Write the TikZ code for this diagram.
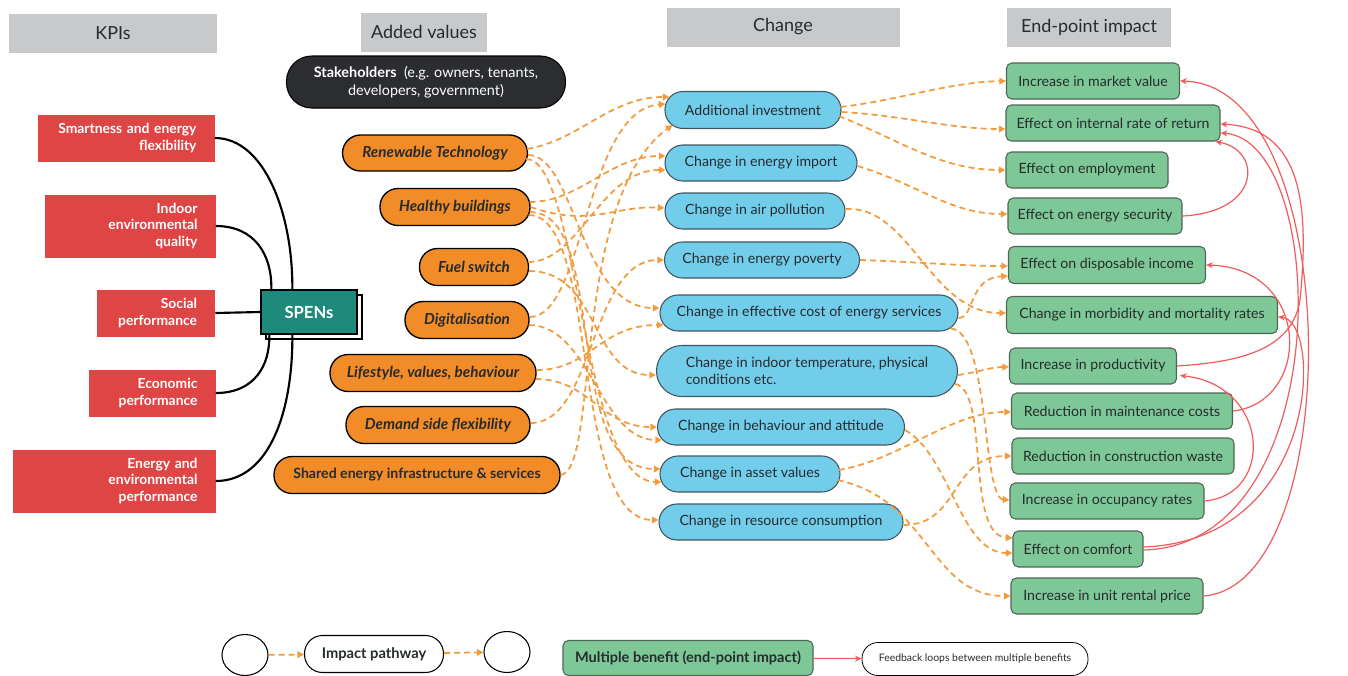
\documentclass[tikz,border=0pt]{standalone}
\usepackage{fontspec}
\setmainfont{Lato}
\usetikzlibrary{arrows.meta,shapes.geometric,calc}
\definecolor{hdr}{HTML}{C8C9CB}
\definecolor{kred}{HTML}{E04545}
\definecolor{teal}{HTML}{1D8A7C}
\definecolor{aorange}{HTML}{F28C28}
\definecolor{lorange}{HTML}{F39A3D}
\definecolor{cblue}{HTML}{72CDEB}
\definecolor{cbord}{HTML}{3E5660}
\definecolor{egreen}{HTML}{7DC896}
\definecolor{gbord}{HTML}{4D6655}
\definecolor{fred}{HTML}{F05B5B}
\definecolor{dark}{HTML}{2B2D30}
\definecolor{txt}{HTML}{262B2E}
\begin{document}
\begin{tikzpicture}[x=0.75pt,y=-0.75pt,
  sz/.style 2 args={minimum width=#1*0.75pt,minimum height=#2*0.75pt},
  base/.style={inner sep=0pt,text=txt,font=\fontsize{10.6}{12.5}\selectfont},
  hdrbox/.style={base,fill=hdr,font=\fontsize{13.5}{15}\selectfont},
  kpi/.style={fill=kred,text=white,inner ysep=0pt,inner xsep=13.5pt,align=right,font=\bfseries\fontsize{10.4}{12.2}\selectfont},
  av/.style={base,draw=black,line width=1pt,fill=aorange,rounded corners=13.5pt,font=\bfseries\itshape\fontsize{11.4}{13}\selectfont},
  ch/.style={base,draw=cbord,line width=0.8pt,fill=cblue,rounded corners=13.5pt},
  ep/.style={base,draw=gbord,line width=0.8pt,fill=egreen,rounded corners=4pt},
  od/.style={draw=lorange,line width=1.3pt,dash pattern=on 4.5pt off 3pt,-{Triangle[length=5pt,width=5pt]}},
  fb/.style={draw=fred,line width=0.9pt,-{Stealth[length=5pt,width=4.5pt]}},
  kl/.style={draw=black,line width=1.6pt}
]
\useasboundingbox (0,0) rectangle (1348,675);

% headers
\node[hdrbox,sz={208}{39}] (h1) at (113,33) {KPIs};
\node[hdrbox,sz={126}{39}] (h2) at (424,32) {Added values};
\node[hdrbox,sz={233}{39}] (h3) at (783,27) {Change};
\node[hdrbox,sz={164}{39}] (h4) at (1089,27) {End-point impact};

% stakeholders
\node[base,fill=dark,draw=black,line width=0.8pt,rounded corners=19pt,sz={279}{52},text=white,align=center,font=\fontsize{10.8}{13.5}\selectfont] (st) at (426,82) {\textbf{Stakeholders}\ \ (e.g. owners, tenants,\\developers, government)};

% KPIs
\node[kpi,text width=141*0.75pt,minimum height=47*0.75pt] (k1) at (126,138) {Smartness and energy\\flexibility};
\node[kpi,text width=135*0.75pt,minimum height=63*0.75pt] (k2) at (130,226) {Indoor\\environmental\\quality};
\node[kpi,text width=82*0.75pt,minimum height=47*0.75pt] (k3) at (156,313) {Social\\performance};
\node[kpi,text width=91*0.75pt,minimum height=47*0.75pt] (k4) at (152,393) {Economic\\performance};
\node[kpi,text width=167*0.75pt,minimum height=63*0.75pt] (k5) at (114,481) {Energy and\\environmental\\performance};

% SPENs
\node[draw=black,fill=white,line width=1pt,sz={96}{44}] (sps) at (314,317) {};
\node[draw=black,fill=teal,line width=1pt,sz={96}{44},text=white,font=\bfseries\fontsize{12.5}{14}\selectfont] (sp) at (309,312) {SPENs};

\draw[kl] (k1.east) .. controls (265,138) and (293,215) .. ($(sp.north west)+(32,0)$);
\draw[kl] (k2.east) .. controls (255,226) and (272,255) .. ($(sp.north west)+(11,0)$);
\draw[kl] (k3.east) -- (sp.west);
\draw[kl] (k4.east) .. controls (255,393) and (270,365) .. ($(sp.south west)+(9,0)$);
\draw[kl] (k5.east) .. controls (270,481) and (293,410) .. ($(sp.south west)+(32,0)$);

% added values
\node[av,sz={185}{36}] (a1) at (435,153) {Renewable Technology};
\node[av,sz={150}{37}] (a2) at (455,207) {Healthy buildings};
\node[av,sz={109}{37}] (a3) at (474,267) {Fuel switch};
\node[av,sz={124}{37}] (a4) at (467,320) {Digitalisation};
\node[av,sz={206}{37}] (a5) at (433,373) {Lifestyle, values, behaviour};
\node[av,sz={184}{37}] (a6) at (438,425) {Demand side flexibility};
\node[av,sz={286}{37},font=\bfseries\fontsize{10.6}{12}\selectfont] (a7) at (417,475) {Shared energy infrastructure \& services};

% change
\node[ch,sz={176}{37}] (c1) at (753,110) {Additional investment};
\node[ch,sz={192}{36}] (c2) at (761,163) {Change in energy import};
\node[ch,sz={180}{36}] (c3) at (755,211) {Change in air pollution};
\node[ch,sz={195}{36}] (c4) at (762,260) {Change in energy poverty};
\node[ch,sz={298}{36}] (c5) at (809,313) {Change in effective cost of energy services};
\node[ch,sz={301}{51},rounded corners=19pt,align=left] (c6) at (807,371) {Change in indoor temperature, physical\\conditions etc.};
\node[ch,sz={247}{36}] (c7) at (781,427) {Change in behaviour and attitude};
\node[ch,sz={180}{36}] (c8) at (750,474) {Change in asset values};
\node[ch,sz={244}{36}] (c9) at (781,522) {Change in resource consumption};

% end-points
\node[ep,sz={173}{36}] (e1) at (1093,81) {Increase in market value};
\node[ep,sz={214}{36}] (e2) at (1113,123) {Effect on internal rate of return};
\node[ep,sz={162}{36}] (e3) at (1087,170) {Effect on employment};
\node[ep,sz={174}{36}] (e4) at (1095,216) {Effect on energy security};
\node[ep,sz={197}{37}] (e5) at (1107,265) {Effect on disposable income};
\node[ep,sz={271}{37}] (e6) at (1142,315) {Change in morbidity and mortality rates};
\node[ep,sz={167}{36}] (e7) at (1093,366) {Increase in productivity};
\node[ep,sz={221}{36}] (e8) at (1122,411) {Reduction in maintenance costs};
\node[ep,sz={222}{36}] (e9) at (1123,456) {Reduction in construction waste};
\node[ep,sz={194}{36}] (e10) at (1107,501) {Increase in occupancy rates};
\node[ep,sz={130}{36}] (e11) at (1078,549) {Effect on comfort};
\node[ep,sz={192}{36}] (e12) at (1107,596) {Increase in unit rental price};

% added values -> change
\draw[od] ($(a1.east)+(-1,-4)$) .. controls (580,140) and (610,97) .. ($(c1.west)+(5,-13)$);
\draw[od] ($(a4.east)+(0,-3)$) .. controls (585,317) and (585,110) .. ($(c1.west)+(1,-6)$);
\draw[od] (a7.east) .. controls (600,470) and (570,200) .. ($(c1.west)+(8,15)$);
\draw[od] ($(a2.east)+(-1,-5)$) .. controls (580,202) and (610,156) .. ($(c2.west)+(1,-7)$);
\draw[od] ($(a3.east)+(-1,-5)$) .. controls (580,262) and (600,170) .. ($(c2.west)+(1,7)$);
\draw[od] (a2.east) .. controls (590,228) and (615,205) .. ($(c3.west)+(0,-3)$);
\draw[od] ($(a6.east)+(0,-2)$) .. controls (595,423) and (590,260) .. (c4.west);
\draw[od] ($(a1.east)+(0,2)$) .. controls (575,155) and (580,308) .. ($(c5.west)+(0,-5)$);
\draw[od] ($(a5.east)+(0,-3)$) .. controls (590,370) and (600,325) .. ($(c5.west)+(4,12)$);
\draw[od] ($(a3.east)+(0,4)$) .. controls (600,271) and (590,375) .. ($(c6.west)+(0,4)$);
\draw[od] ($(a5.east)+(-1,6)$) .. controls (590,379) and (600,427) .. (c7.west);
\draw[od] ($(a4.east)+(-1,5)$) .. controls (590,325) and (600,440) .. ($(c7.west)+(5,13)$);
\draw[od] ($(a2.east)+(-1,5)$) .. controls (610,212) and (560,469) .. ($(c8.west)+(1,-5)$);
\draw[od] ($(a1.east)+(-2,6)$) .. controls (580,159) and (580,481) .. ($(c8.west)+(2,8)$);
\draw[od] ($(a2.east)+(-2,8)$) .. controls (600,215) and (570,520) .. ($(c9.west)+(0,-2)$);

% change -> end-points
\draw[od] ($(c1.east)+(-1,-3)$) .. controls (900,100) and (950,82) .. (e1.west);
\draw[od] ($(c1.east)+(0,2)$) .. controls (900,115) and (950,129) .. ($(e2.west)+(0,6)$);
\draw[od] ($(c1.east)+(-3,6)$) .. controls (900,140) and (940,170) .. (e3.west);
\draw[od] ($(c2.east)+(0,3)$) .. controls (920,185) and (950,214) .. ($(e4.west)+(0,-2)$);
\draw[od] ($(c3.east)+(0,-2)$) .. controls (910,205) and (930,313) .. ($(e6.west)+(0,-2)$);
\draw[od] (c4.east) .. controls (920,262) and (960,266) .. ($(e5.west)+(0,1)$);
\draw[od] ($(c5.east)+(0,5)$) .. controls (975,318) and (968,278) .. ($(e5.west)+(0,11)$);
\draw[od] ($(c5.south east)+(-8,-3)$) .. controls (990,330) and (982,498) .. ($(e10.west)+(0,-1)$);
\draw[od] ($(c6.east)+(0,4)$) .. controls (980,372) and (990,367) .. ($(e7.west)+(0,1)$);
\draw[od] ($(c6.east)+(-3,13)$) .. controls (990,390) and (965,535) .. ($(e11.west)+(0,-11)$);
\draw[od] ($(c7.east)+(0,3)$) .. controls (950,455) and (960,553) .. ($(e11.west)+(0,4)$);
\draw[od] ($(c8.east)+(-2,-4)$) .. controls (900,460) and (950,412) .. ($(e8.west)+(0,1)$);
\draw[od] ($(c8.east)+(-3,6)$) .. controls (930,500) and (930,596) .. (e12.west);
\draw[od] ($(c9.east)+(0,3)$) .. controls (960,525) and (950,456) .. (e9.west);

% feedback loops
\draw[fb] (e4.east) .. controls (1262,212) and (1262,150) .. ($(e2.south east)+(-5,0)$);
\draw[fb] (e12.east) .. controls (1348,585) and (1345,85) .. (e1.east);
\draw[fb] ($(e11.east)+(0,1)$) .. controls (1338,545) and (1330,140) .. ($(e2.east)+(0,10)$);
\draw[fb] (e7.east) .. controls (1240,362) and (1292,350) .. (1300,300) .. controls (1310,200) and (1300,128) .. ($(e2.east)+(0,1)$);
\draw[fb] (e8.east) .. controls (1312,402) and (1312,268) .. (e5.east);
\draw[fb] ($(e11.east)+(0,-2)$) .. controls (1322,540) and (1322,320) .. ($(e6.east)+(0,2)$);
\draw[fb] (e10.east) .. controls (1275,495) and (1270,385) .. ($(e7.south east)+(3,-9)$);

% legend
\node[ellipse,draw=black,line width=0.8pt,sz={46}{41}] (l1) at (245,655) {};
\node[base,draw=black,line width=0.8pt,fill=white,rounded corners=13.5pt,sz={139}{37},font=\bfseries\fontsize{11}{12}\selectfont] (l2) at (374,654) {Impact pathway};
\node[ellipse,draw=black,line width=0.8pt,sz={46}{41}] (l3) at (507,652) {};
\draw[od] (l1) -- (l2);
\draw[od] (l2) -- (l3);
\node[ep,sz={250}{35},font=\bfseries\fontsize{10.9}{12}\selectfont] (l4) at (688,658) {Multiple benefit (end-point impact)};
\node[base,draw=black,line width=0.6pt,fill=white,rounded corners=12pt,sz={226}{33},font=\fontsize{7.8}{9}\selectfont] (l5) at (975,659) {Feedback loops between multiple benefits};
\draw[fb] (l4) -- (l5);
\end{tikzpicture}
\end{document}
